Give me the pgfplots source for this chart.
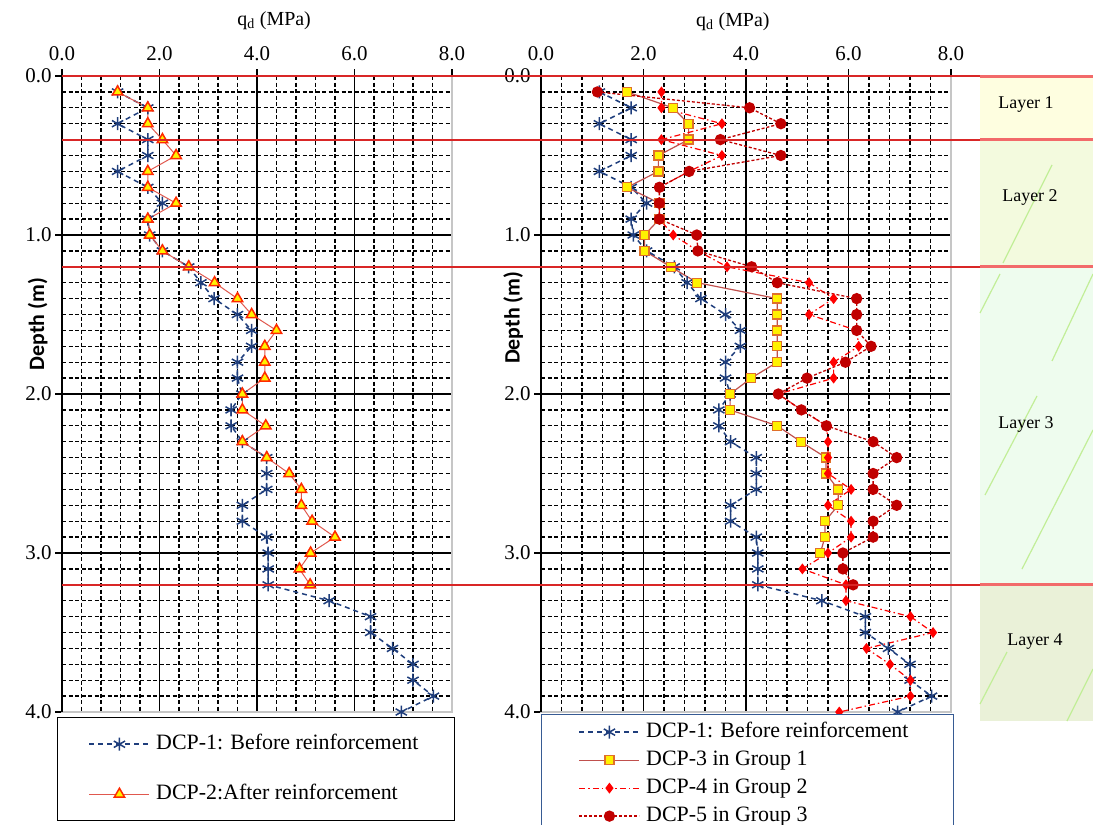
\documentclass[border=0pt]{standalone}
\usepackage{fontspec}
\setmainfont{Liberation Serif}
\newfontfamily\carlito{Carlito}
\usepackage{pgfplots}
\usepackage{pgfplotstable}
\pgfplotsset{compat=1.18}

\definecolor{dcpblue}{HTML}{1F3E7C}
\definecolor{dcptwo}{HTML}{E0584E}
\definecolor{dcptwoedge}{HTML}{FF2A00}
\definecolor{dcpthree}{HTML}{C0504D}
\definecolor{dcpthreeedge}{HTML}{E0702A}
\definecolor{dcpfour}{HTML}{FF0000}
\definecolor{dcpfive}{HTML}{C00000}
\definecolor{layerred}{HTML}{D92626}
\definecolor{layerpink}{HTML}{F26A6A}
\definecolor{layA}{HTML}{FEFEE0}
\definecolor{layB}{HTML}{F3FADE}
\definecolor{layC}{HTML}{EEFCEE}
\definecolor{layD}{HTML}{EAF1D8}
\definecolor{leafgreen}{HTML}{C2EE98}
\definecolor{legblue}{HTML}{375B93}

\pgfplotstableread{
d q
0.1 1.14
0.2 1.76
0.3 1.14
0.4 1.76
0.5 1.76
0.6 1.14
0.7 1.76
0.8 2.06
0.9 1.76
1.0 1.80
1.1 2.06
1.2 2.60
1.3 2.85
1.4 3.12
1.5 3.60
1.6 3.89
1.7 3.89
1.8 3.60
1.9 3.60
2.0 3.69
2.1 3.47
2.2 3.47
2.3 3.70
2.4 4.20
2.5 4.20
2.6 4.20
2.7 3.70
2.8 3.70
2.9 4.20
3.0 4.23
3.1 4.23
3.2 4.23
3.3 5.48
3.4 6.33
3.5 6.33
3.6 6.78
3.7 7.20
3.8 7.20
3.9 7.62
4.0 6.96
}\dcpone

\pgfplotstableread{
d q
0.1 1.14
0.2 1.76
0.3 1.76
0.4 2.06
0.5 2.34
0.6 1.76
0.7 1.76
0.8 2.34
0.9 1.76
1.0 1.80
1.1 2.06
1.2 2.60
1.3 3.13
1.4 3.60
1.5 3.89
1.6 4.40
1.7 4.16
1.8 4.16
1.9 4.16
2.0 3.70
2.1 3.70
2.2 4.18
2.3 3.70
2.4 4.20
2.5 4.66
2.6 4.91
2.7 4.91
2.8 5.13
2.9 5.60
3.0 5.10
3.1 4.87
3.2 5.09
}\dcptwo

\pgfplotstableread{
d q
0.1 1.68
0.2 2.57
0.3 2.88
0.4 2.88
0.5 2.29
0.6 2.29
0.7 1.68
0.8 2.31
0.9 2.31
1.0 2.02
1.1 2.02
1.2 2.53
1.3 3.05
1.4 4.61
1.5 4.61
1.6 4.61
1.7 4.61
1.8 4.61
1.9 4.10
2.0 3.69
2.1 3.69
2.2 4.61
2.3 5.07
2.4 5.56
2.5 5.56
2.6 5.80
2.7 5.80
2.8 5.54
2.9 5.54
3.0 5.45
}\dcpthree

\pgfplotstableread{
d q
0.1 2.35
0.2 2.35
0.3 3.53
0.4 2.35
0.5 3.53
0.6 2.89
0.7 2.31
0.8 2.31
0.9 2.31
1.0 2.58
1.1 3.06
1.2 3.63
1.3 5.23
1.4 5.71
1.5 5.23
1.6 6.16
1.7 6.20
1.8 5.71
1.9 5.71
2.0 4.63
2.1 5.08
2.2 5.57
2.3 5.60
2.4 5.60
2.5 5.60
2.6 6.05
2.7 5.60
2.8 6.05
2.9 6.05
3.0 5.60
3.1 5.10
3.2 5.95
3.3 5.95
3.4 7.21
3.5 7.65
3.6 6.35
3.7 6.81
3.8 7.21
3.9 7.21
4.0 5.82
}\dcpfour

\pgfplotstableread{
d q
0.1 1.10
0.2 4.07
0.3 4.68
0.4 3.50
0.5 4.68
0.6 2.89
0.7 2.31
0.8 2.31
0.9 2.31
1.0 3.04
1.1 3.06
1.2 4.11
1.3 4.61
1.4 6.16
1.5 6.16
1.6 6.16
1.7 6.44
1.8 5.94
1.9 5.19
2.0 4.63
2.1 5.08
2.2 5.57
2.3 6.48
2.4 6.94
2.5 6.48
2.6 6.48
2.7 6.94
2.8 6.48
2.9 6.48
3.0 5.89
3.1 5.89
3.2 6.09
}\dcpfive

\pgfplotsset{
  dcpaxis/.style={
    anchor=north west, scale only axis, height=636bp,
    xmin=0, xmax=8, ymin=0, ymax=4, y dir=reverse,
    clip=false,
    xtick={0,2,4,6,8}, ytick={0,1,2,3,4},
    minor x tick num=4, minor y tick num=9,
    grid=both,
    major grid style={black, line width=1.3bp},
    minor grid style={black, line width=1.3bp, dash pattern=on 4bp off 2.5bp},
    axis line style={draw=gray!45, line width=2bp},
    tick style={black, line width=1.2bp},
    major tick length=7bp, minor tick length=0bp,
    tick align=outside,
    xtick pos=right, ytick pos=left,
    xticklabel pos=right, yticklabel pos=left,
    /pgf/number format/fixed,
    /pgf/number format/fixed zerofill,
    /pgf/number format/precision=1,
    /pgf/number format/assume math mode=true,
    tick label style={font=\fontsize{21}{25}\selectfont},
    xticklabel style={yshift=5bp},
    xlabel={q\textsubscript{d} (MPa)},
    xlabel style={font=\fontsize{20}{24}\selectfont},
    ylabel={Depth (m)},
    ylabel style={font=\carlito\bfseries\fontsize{22}{26}\selectfont, anchor=center},
    legend cell align=left,
  },
}

\begin{document}
\begin{tikzpicture}
\useasboundingbox (0,0) rectangle (1093bp,-825bp);
% layer panel
\fill[layA] (980bp,-76bp) rectangle (1093bp,-139.6bp);
\fill[layB] (980bp,-139.6bp) rectangle (1093bp,-266.8bp);
\fill[layC] (980bp,-266.8bp) rectangle (1093bp,-584.8bp);
\fill[layD] (980bp,-584.8bp) rectangle (1093bp,-721bp);
\begin{scope}[leafgreen, line width=1.2bp]
\draw (1003bp,-263bp) -- (1052bp,-165bp);
\draw (980bp,-313bp) -- (1000bp,-274bp);
\draw (1052bp,-361bp) -- (1093bp,-274bp);
\draw (985bp,-495bp) -- (1037bp,-396bp);
\draw (1022bp,-569bp) -- (1093bp,-430bp);
\draw (980bp,-704bp) -- (1007bp,-652bp);
\draw (1067bp,-721bp) -- (1093bp,-669bp);
\end{scope}
\node[font=\fontsize{18}{22}\selectfont] at (1026bp,-105bp) {Layer 1};
\node[font=\fontsize{18}{22}\selectfont] at (1030bp,-197bp) {Layer 2};
\node[font=\fontsize{18}{22}\selectfont] at (1026bp,-424bp) {Layer 3};
\node[font=\fontsize{18}{22}\selectfont] at (1035bp,-642bp) {Layer 4};

% ---------------- left axis
\begin{axis}[dcpaxis, at={(62bp,-76bp)}, width=390bp,
  xlabel style={at={(axis description cs:0.544,1)}, anchor=center, yshift=55bp},
  ylabel style={at={(axis description cs:-0.062,0.61)}},
  legend style={at={(axis description cs:-0.0128,-0.0079)}, anchor=north west,
    draw=black, line width=1.4bp, inner xsep=0bp, inner ysep=16bp, row sep=29bp,
    column sep=6bp, fill=white,
    nodes={inner sep=0bp, text height=16bp, text depth=5bp, font=\fontsize{22}{26}\selectfont}},
  legend image code/.code={\path (0bp,0bp);
    \draw[mark repeat=2,mark phase=2,#1] plot coordinates {(31bp,0bp) (61bp,0bp) (91bp,0bp)};},
]
\addplot[dcpblue, line width=1.5bp, dash pattern=on 5bp off 4bp,
  mark=asterisk, mark size=6.5bp, mark options={solid, line width=1.5bp}]
  table[x=q, y=d] {\dcpone};
\addlegendentry{\makebox[298bp][l]{DCP-1: Before reinforcement}}
\addplot[dcptwo, line width=1bp,
  mark=triangle*, mark size=6bp, mark options={solid, fill=yellow, draw=dcptwoedge, line width=1.5bp}]
  table[x=q, y=d] {\dcptwo};
\addlegendentry{\makebox[298bp][l]{DCP-2:After reinforcement}}
\draw[black, line width=1.6bp] (axis cs:0,4) -- (axis cs:0,0) -- (axis cs:8,0);
\end{axis}

% ---------------- right axis
\begin{axis}[dcpaxis, at={(541bp,-76bp)}, width=410bp,
  xlabel style={at={(axis description cs:0.468,1)}, anchor=center, yshift=54bp},
  ylabel style={at={(axis description cs:-0.068,0.62)}},
  legend style={at={(axis description cs:0,-0.003)}, anchor=north west,
    draw=legblue, line width=1.4bp, inner xsep=0bp, inner ysep=7bp, row sep=7bp,
    column sep=6bp, fill=white,
    nodes={inner sep=0bp, text height=16bp, text depth=5bp, font=\fontsize{22}{26}\selectfont}},
  legend image code/.code={\path (0bp,0bp);
    \draw[mark repeat=2,mark phase=2,#1] plot coordinates {(37bp,0bp) (67bp,0bp) (97bp,0bp)};},
]
\addplot[dcpblue, line width=1.5bp, dash pattern=on 5bp off 4bp,
  mark=asterisk, mark size=6.5bp, mark options={solid, line width=1.5bp}]
  table[x=q, y=d] {\dcpone};
\addlegendentry{\makebox[307bp][l]{DCP-1: Before reinforcement}}
\addplot[dcpthree, line width=1.2bp,
  mark=square*, mark size=4.5bp, mark options={solid, fill=yellow, draw=dcpthreeedge, line width=1.3bp}]
  table[x=q, y=d] {\dcpthree};
\addlegendentry{\makebox[307bp][l]{DCP-3 in Group 1}}
\addplot[dcpfour, line width=1.2bp, dash pattern=on 6bp off 3bp on 1.5bp off 3bp,
  mark=diamond*, mark size=4.5bp, mark options={solid, fill=dcpfour, draw=dcpfour}]
  table[x=q, y=d] {\dcpfour};
\addlegendentry{\makebox[307bp][l]{DCP-4 in Group 2}}
\addplot[dcpfive, line width=1.3bp, dash pattern=on 3bp off 2bp,
  mark=*, mark size=5bp, mark options={solid, fill=dcpfive, draw=dcpfive}]
  table[x=q, y=d] {\dcpfive};
\addlegendentry{\makebox[307bp][l]{DCP-5 in Group 3}}
\draw[black, line width=1.6bp] (axis cs:0,4) -- (axis cs:0,0) -- (axis cs:8,0);
\end{axis}

% layer boundary lines
\foreach \yy in {76,139.6,266.8,584.8}{
  \draw[layerred, line width=1.8bp] (62bp,-\yy bp) -- (1093bp,-\yy bp);
  \draw[layerpink, line width=3bp] (980bp,-\yy bp) -- (1093bp,-\yy bp);
}
\end{tikzpicture}
\end{document}
